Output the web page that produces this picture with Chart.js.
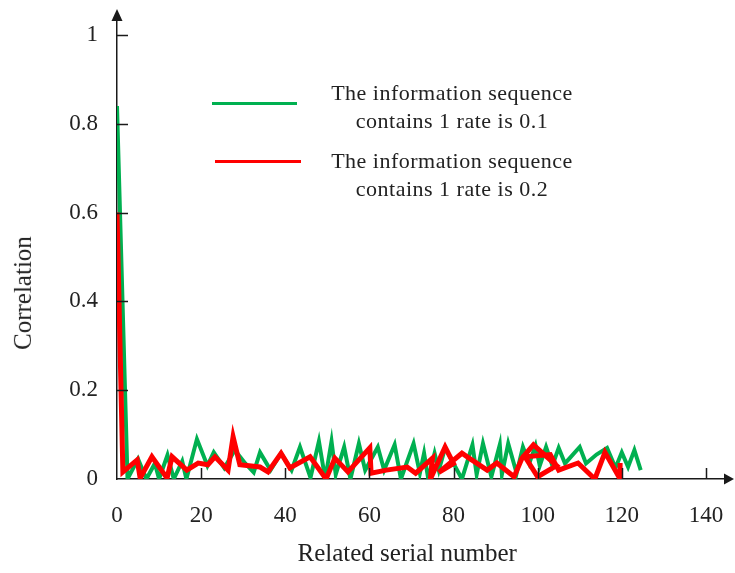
<!DOCTYPE html>
<html>
<head>
<meta charset="utf-8">
<script src="https://cdn.jsdelivr.net/npm/chart.js@4/dist/chart.umd.min.js"></script>
<style>
  body { margin: 0; background: #fff; }
  #wrap { position: relative; width: 735px; height: 573px; font-family: "Liberation Serif", "Times New Roman", serif; color: #222; }
  #c { position: absolute; left: 0; top: 0; }
  .lg-line { position: absolute; height: 3px; }
  .lg-text { position: absolute; width: 260px; text-align: center; font-size: 22px; line-height: 28px; letter-spacing: 0.5px; }
  .ttl { position: absolute; font-size: 25px; white-space: nowrap; }
</style>
</head>
<body>
<div id="wrap">
  <canvas id="c" width="735" height="573"></canvas>
  <div class="lg-line" style="left:212px;top:102px;width:85px;background:#00b050"></div>
  <div class="lg-text" style="left:322px;top:79px">The information sequence<br>contains 1 rate is 0.1</div>
  <div class="lg-line" style="left:215px;top:160px;width:86px;background:#ff0000"></div>
  <div class="lg-text" style="left:322px;top:147px">The information sequence<br>contains 1 rate is 0.2</div>
  <div class="ttl" id="ytitle">Correlation</div>
  <div class="ttl" id="xtitle">Related serial number</div>
</div>
<script>
// series 1: rate 0.1 (green)
var greenX = [0, 2.5, 5, 7, 9, 10, 12, 13.5, 15.5, 16.5, 19, 21.5, 23, 25.5, 28, 30.5, 32.5, 34, 36.5, 39, 41.5, 43.5, 46, 48, 49.5, 51, 52, 54, 55.5, 57.5, 59, 62, 63.5, 66, 67.5, 70.5, 72, 73, 74, 75.5, 76.5, 78, 82, 84.5, 85.5, 87, 89, 91, 91.5, 93, 95, 96.5, 98, 99.5, 100.5, 102, 103.5, 105, 106.5, 110, 111.5, 114, 116.5, 118.5, 120, 121.5, 123, 124.5];
var greenY = [0.84, 0, 0.045, 0, 0.035, 0, 0.054, 0, 0.04, 0, 0.09, 0.03, 0.06, 0.025, 0.065, 0.035, 0.015, 0.06, 0.02, 0.058, 0.02, 0.072, 0.003, 0.085, 0, 0.085, 0.01, 0.072, 0, 0.08, 0.02, 0.072, 0.02, 0.077, 0, 0.08, 0.013, 0.058, 0, 0.058, 0.02, 0.07, 0, 0.077, 0.01, 0.08, 0.005, 0.077, 0.01, 0.08, 0.013, 0.072, 0.035, 0.075, 0.03, 0.072, 0.03, 0.07, 0.035, 0.072, 0.035, 0.055, 0.07, 0.025, 0.06, 0.027, 0.065, 0.02];
// series 2: rate 0.2 (red)
var redX = [0, 1.4, 4.8, 5.5, 8.3, 11.9, 13.1, 16.6, 19.3, 21.6, 23.3, 26.4, 27.6, 29.2, 34, 35.9, 39, 41.1, 45.9, 49.7, 51.8, 54.9, 60.1, 60.4, 64, 69, 71, 75, 74.5, 78, 80, 76.5, 82, 83.7, 88, 90.3, 94.4, 96.3, 99, 104.5, 100, 97, 103, 105, 109.6, 113.6, 116, 119.6, 119.6];
var redY = [0.6, 0.016, 0.043, 0.002, 0.05, 0.002, 0.05, 0.02, 0.036, 0.032, 0.05, 0.02, 0.095, 0.032, 0.027, 0.016, 0.058, 0.025, 0.05, 0, 0.047, 0.016, 0.07, 0.013, 0.02, 0.027, 0.013, 0.047, 0, 0.072, 0.035, 0.015, 0.058, 0.047, 0.02, 0.036, 0.005, 0.047, 0.077, 0.03, 0.005, 0.05, 0.055, 0.02, 0.036, 0, 0.06, 0, 0.036];
var xTicks = [0, 20, 40, 60, 80, 100, 120, 140];
var yTicks = [0, 0.2, 0.4, 0.6, 0.8, 1];

var font = "'Liberation Serif', 'Times New Roman', serif";
var ink = '#1a1a1a';

function pts(xs, ys) {
  var out = [];
  for (var i = 0; i < xs.length; i++) out.push({x: xs[i], y: ys[i]});
  return out;
}

// inward tick marks + axis arrows
var axisDecor = {
  id: 'axisDecor',
  afterDraw: function(chart) {
    var ctx = chart.ctx, a = chart.chartArea, x = chart.scales.x, y = chart.scales.y;
    ctx.save();
    ctx.strokeStyle = ink;
    ctx.fillStyle = ink;
    ctx.lineWidth = 1.5;
    yTicks.forEach(function(v) {
      if (v === 0) return;
      var py = Math.round(y.getPixelForValue(v)) + 0.5;
      ctx.beginPath(); ctx.moveTo(a.left, py); ctx.lineTo(a.left + 11, py); ctx.stroke();
    });
    xTicks.forEach(function(v) {
      if (v === 0) return;
      var px = Math.round(x.getPixelForValue(v)) + 0.5;
      ctx.beginPath(); ctx.moveTo(px, a.bottom); ctx.lineTo(px, a.bottom - 11); ctx.stroke();
    });
    ctx.beginPath();
    ctx.moveTo(a.left, a.top - 12); ctx.lineTo(a.left - 5.5, a.top); ctx.lineTo(a.left + 5.5, a.top);
    ctx.closePath(); ctx.fill();
    ctx.beginPath();
    ctx.moveTo(a.right + 10, a.bottom); ctx.lineTo(a.right, a.bottom - 5.5); ctx.lineTo(a.right, a.bottom + 5.5);
    ctx.closePath(); ctx.fill();
    ctx.restore();
  }
};

var chart = new Chart(document.getElementById('c').getContext('2d'), {
  type: 'scatter',
  data: {
    datasets: [
      {
        data: pts(redX, redY),
        showLine: true,
        borderColor: '#ff0000',
        borderWidth: 5,
        pointRadius: 0,
        tension: 0,
        order: 0
      },
      {
        data: pts(greenX, greenY),
        showLine: true,
        borderColor: '#00b050',
        borderWidth: 4,
        pointRadius: 0,
        tension: 0,
        order: 1
      }
    ]
  },
  options: {
    responsive: false,
    animation: false,
    layout: { padding: { top: 21, right: 11, left: 0, bottom: 0 } },
    plugins: { legend: { display: false }, tooltip: { enabled: false } },
    scales: {
      x: {
        type: 'linear',
        min: 0,
        max: 144.3,
        afterBuildTicks: function(s) { s.ticks = xTicks.map(function(v) { return {value: v}; }); },
        afterFit: function(s) { s.height = 94; s.paddingLeft = 0; s.paddingRight = 0; },
        grid: { drawOnChartArea: false, drawTicks: false },
        border: { display: true, color: ink, width: 1.5 },
        ticks: { padding: 23, color: '#222', maxRotation: 0, autoSkip: false, font: { family: font, size: 23 } }
      },
      y: {
        min: 0,
        max: 1.0315,
        afterBuildTicks: function(s) { s.ticks = yTicks.map(function(v) { return {value: v}; }); },
        afterFit: function(s) { s.width = 117; s.paddingTop = 0; s.paddingBottom = 0; },
        grid: { drawOnChartArea: false, drawTicks: false },
        border: { display: true, color: ink, width: 1.5 },
        ticks: {
          padding: 19, color: '#222', font: { family: font, size: 23 },
          callback: function(v) { return String(+v.toFixed(1)); }
        }
      }
    }
  },
  plugins: [axisDecor]
});

// axis titles placed as real text
var yt = document.getElementById('ytitle');
yt.style.left = (23 - yt.offsetWidth / 2) + 'px';
yt.style.top = (293 - yt.offsetHeight / 2) + 'px';
yt.style.transform = 'rotate(-90deg)';
var xt = document.getElementById('xtitle');
xt.style.left = (407 - xt.offsetWidth / 2) + 'px';
xt.style.top = (553 - xt.offsetHeight / 2) + 'px';
</script>
</body>
</html>
